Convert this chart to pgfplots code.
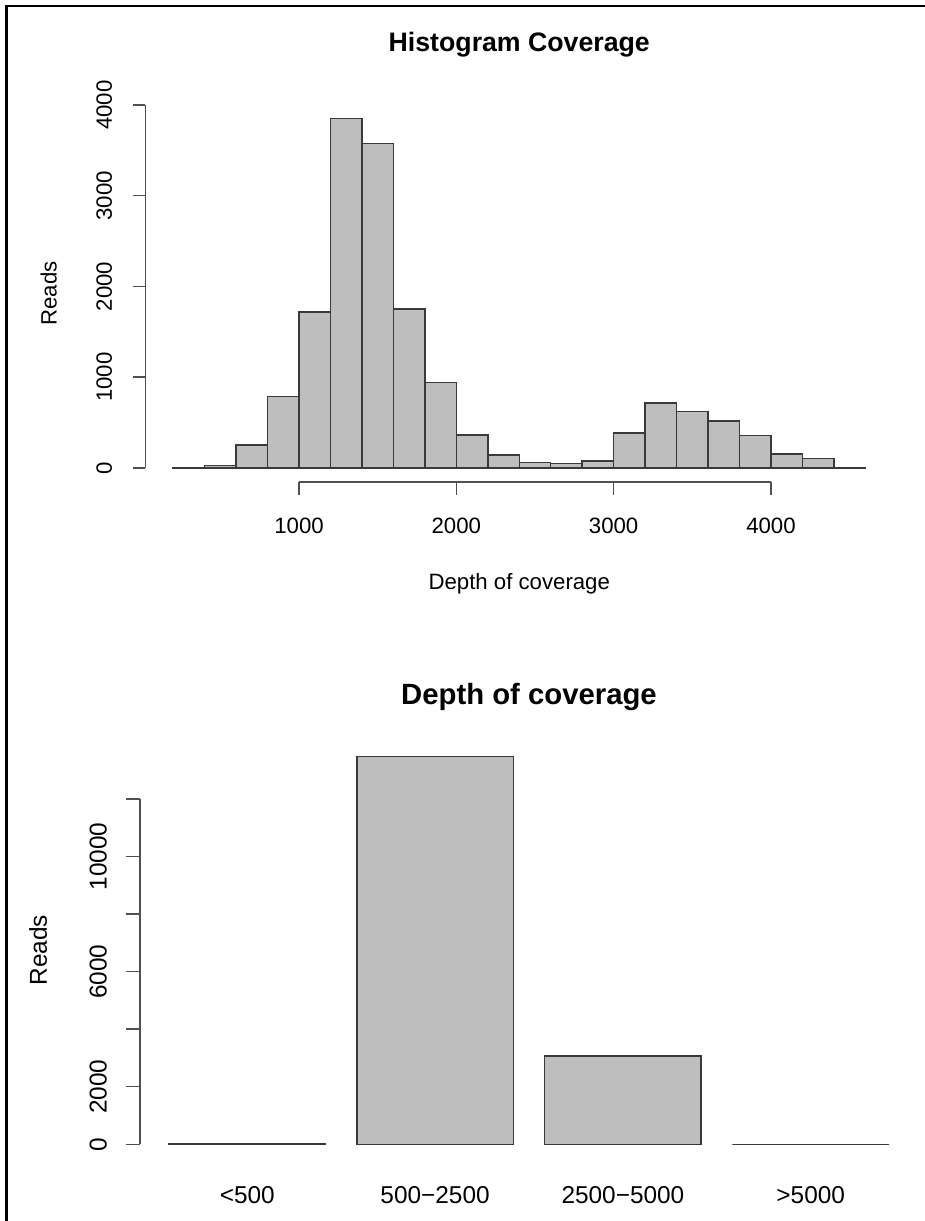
\documentclass[border=0pt]{standalone}
\usepackage{fontspec}
\setmainfont{Liberation Sans}
\usepackage{pgfplots}
\pgfplotsset{compat=1.18}
\definecolor{barfill}{HTML}{BEBEBE}
\definecolor{edge}{HTML}{3A3A3A}
\definecolor{axisc}{HTML}{505050}
\tikzset{
  labA/.style={font=\fontsize{11.1}{13.3}\selectfont, inner sep=0pt},
  labB/.style={font=\fontsize{12.2}{14.6}\selectfont, inner sep=0pt},
  axl/.style={draw=axisc, line width=0.75pt},
}
\begin{document}
\begin{tikzpicture}
\useasboundingbox (0,0) rectangle (462.5pt,610.5pt);
% outer frame (top and left edges)
\draw[line width=1.25pt, black] (3.25pt,0pt) -- (3.25pt,607.4pt) -- (462.5pt,607.4pt);

% ---------------- Top: histogram ----------------
\begin{axis}[
  at={(72.73pt,369.51pt)}, anchor=south west,
  scale only axis, width=373.8pt, height=188.67pt,
  xmin=24, xmax=4776, ymin=-154, ymax=4004,
  hide axis, clip=false]
\addplot[ybar interval, fill=barfill, draw=edge, line width=0.7pt] coordinates {
 (200,8) (400,30) (600,255) (800,790) (1000,1720) (1200,3850) (1400,3575)
 (1600,1750) (1800,940) (2000,365) (2200,145) (2400,62) (2600,48) (2800,75)
 (3000,385) (3200,715) (3400,620) (3600,520) (3800,355) (4000,155) (4200,105)
 (4400,8) (4600,8)};
% x axis
\draw[axl] (axis cs:1000,-154) -- (axis cs:4000,-154);
\pgfplotsinvokeforeach{1000,2000,3000,4000}{
  \draw[axl] (axis cs:#1,-154) -- (axis cs:#1,-301);
  \node[labA, anchor=base] at (axis cs:#1,-722) {#1};
}
% y axis
\draw[axl] (axis cs:24,0) -- (axis cs:24,4000);
\pgfplotsinvokeforeach{0,1000,2000,3000,4000}{
  \draw[axl] (axis cs:24,#1) -- (axis cs:-55,#1);
  \node[labA, anchor=base, rotate=90] at (axis cs:-190,#1) {#1};
}
\node[labA, anchor=base] at (axis cs:2400,-1344) {Depth of coverage};
\node[labA, anchor=base, rotate=90] at (axis cs:-540,1925) {Reads};
\node[inner sep=0pt, anchor=base, font=\fontsize{13.35}{16}\selectfont\bfseries] at (axis cs:2400,4584) {Histogram Coverage};
\end{axis}

% ---------------- Bottom: bar chart ----------------
\begin{axis}[
  at={(70.1pt,30.6pt)}, anchor=south west,
  scale only axis, width=388.8pt, height=209.5pt,
  xmin=0.016, xmax=4.984, ymin=-539, ymax=14022,
  hide axis, clip=false]
\addplot[ybar, bar width=1, fill=barfill, draw=edge, line width=0.7pt] coordinates {
 (0.7,25) (1.9,13483) (3.1,3066) (4.3,0)};
% y axis
\draw[axl] (axis cs:0.016,0) -- (axis cs:0.016,12000);
\pgfplotsinvokeforeach{0,2000,4000,6000,8000,10000,12000}{
  \draw[axl] (axis cs:0.016,#1) -- (axis cs:-0.0735,#1);
}
\pgfplotsinvokeforeach{0,2000,6000,10000}{
  \node[labB, anchor=base, rotate=90] at (axis cs:-0.198,#1) {#1};
}
\node[labB, anchor=base] at (axis cs:0.7,-2047) {<500};
\node[labB, anchor=base] at (axis cs:1.9,-2047) {500−2500};
\node[labB, anchor=base] at (axis cs:3.1,-2047) {2500−5000};
\node[labB, anchor=base] at (axis cs:4.3,-2047) {>5000};
\node[labB, anchor=base, rotate=90] at (axis cs:-0.581,6741) {Reads};
\node[inner sep=0pt, anchor=base, font=\fontsize{14.65}{17.5}\selectfont\bfseries] at (axis cs:2.5,15267) {Depth of coverage};
\end{axis}
\end{tikzpicture}
\end{document}
